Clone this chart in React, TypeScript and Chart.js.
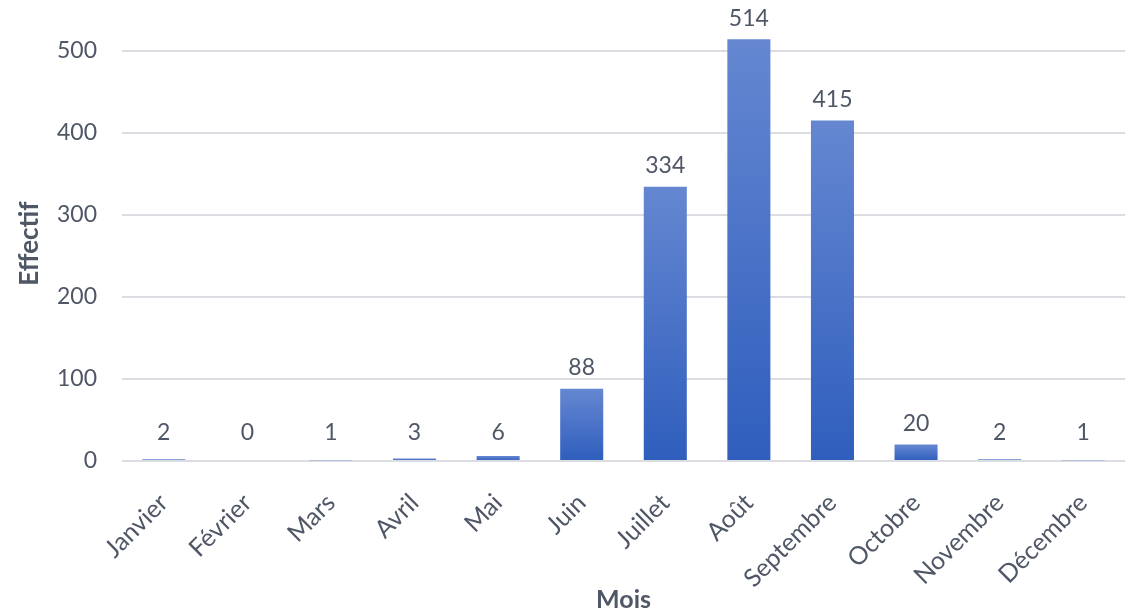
import React, { useEffect, useRef } from "react";
import { Chart, registerables } from "chart.js";

Chart.register(...registerables);

const months = [
  "Janvier", "Février", "Mars", "Avril", "Mai", "Juin",
  "Juillet", "Août", "Septembre", "Octobre", "Novembre", "Décembre",
];
const effectif = [2, 0, 1, 3, 6, 88, 334, 514, 415, 20, 2, 1];
const yTicks = [0, 100, 200, 300, 400, 500];
const yAxisTitle = "Effectif";
const xAxisTitle = "Mois";

const FONT = "Lato, 'Open Sans', sans-serif";
const TEXT = "#4f5767";
const TOP_COLOR = "#6587d1";
const BOTTOM_COLOR = "#2f5ebd";

const dataLabels = {
  id: "dataLabels",
  afterDatasetsDraw(chart: any) {
    const ctx = chart.ctx;
    const meta = chart.getDatasetMeta(0);
    const zeroY = chart.scales.y.getPixelForValue(0);
    ctx.save();
    ctx.font = `23px ${FONT}`;
    ctx.fillStyle = TEXT;
    ctx.textAlign = "center";
    ctx.textBaseline = "middle";
    meta.data.forEach((el: any, i: number) => {
      const y = Math.min(el.y - 21, zeroY - 28);
      ctx.fillText(String(effectif[i]), el.x, y);
    });
    ctx.restore();
  },
};

export default function App() {
  const ref = useRef<HTMLCanvasElement | null>(null);

  useEffect(() => {
    if (!ref.current) return;
    const chart = new Chart(ref.current, {
      type: "bar",
      data: {
        labels: months,
        datasets: [
          {
            data: effectif,
            barPercentage: 0.515,
            categoryPercentage: 1,
            backgroundColor: (c: any) => {
              const ch = c.chart;
              const ys = ch.scales && ch.scales.y;
              if (!ys || c.type !== "data") return BOTTOM_COLOR;
              const top = ys.getPixelForValue(c.raw);
              const bottom = ys.getPixelForValue(0);
              if (!isFinite(top) || !isFinite(bottom) || bottom - top < 1) return "#4a72c8";
              const g = ch.ctx.createLinearGradient(0, top, 0, bottom);
              g.addColorStop(0, TOP_COLOR);
              g.addColorStop(1, BOTTOM_COLOR);
              return g;
            },
            borderWidth: 0,
          },
        ],
      },
      options: {
        responsive: false,
        devicePixelRatio: 1,
        animation: false,
        layout: { padding: { top: 26, right: 10, left: 0, bottom: 0 } },
        plugins: {
          legend: { display: false },
          tooltip: { enabled: false },
        },
        scales: {
          x: {
            grid: { display: false, drawTicks: false },
            border: { display: false },
            ticks: {
              autoSkip: false,
              maxRotation: 45,
              minRotation: 45,
              padding: 20,
              color: TEXT,
              font: { family: FONT, size: 25, lineHeight: 2.0 },
            },
            title: {
              display: true,
              text: xAxisTitle,
              color: TEXT,
              font: { family: FONT, size: 25, weight: "bold" },
              padding: { top: 0, bottom: 0 },
            },
            afterFit: (s: any) => {
              s.height = 154;
              s.paddingLeft = 0;
              s.paddingRight = 0;
            },
          },
          y: {
            min: 0,
            max: 530,
            bounds: "data",
            afterBuildTicks: (s: any) => {
              s.ticks = yTicks.map((v) => ({ value: v }));
            },
            grid: { color: "#dcdde2", lineWidth: 2, drawTicks: false },
            border: { display: false },
            ticks: {
              padding: 25,
              color: TEXT,
              font: { family: FONT, size: 23 },
            },
            title: {
              display: true,
              text: yAxisTitle,
              color: TEXT,
              font: { family: FONT, size: 26, weight: "bold" },
              padding: { top: 14, bottom: 0 },
            },
            afterFit: (s: any) => {
              s.width = 122;
              s.paddingTop = 0;
              s.paddingBottom = 0;
            },
          },
        },
      },
      plugins: [dataLabels],
    });
    return () => chart.destroy();
  }, []);

  return (
    <div style={{ position: "absolute", left: 0, top: 0, width: 1135, height: 615, background: "#fff" }}>
      <canvas ref={ref} width={1135} height={615} style={{ display: "block" }} />
    </div>
  );
}
